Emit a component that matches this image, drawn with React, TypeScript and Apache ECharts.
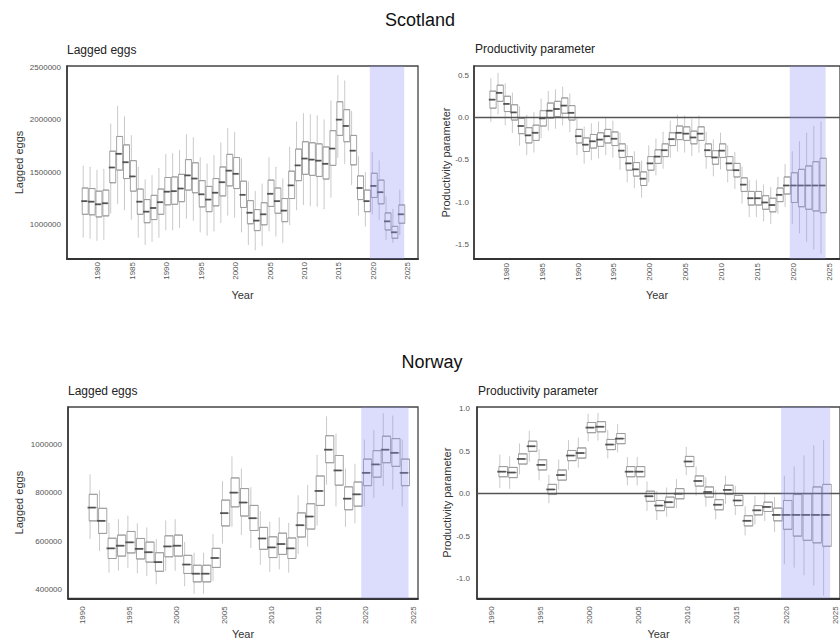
import React, { useEffect, useRef } from 'react';
import * as echarts from 'echarts';

const FONT = '"Liberation Sans", Arial, Helvetica, sans-serif';

const yearRange = (a: number, b: number): string[] => {
  const r: string[] = [];
  for (let y = a; y <= b; y++) r.push(String(y));
  return r;
};

// shaded projection period
const projectionStart = '2020';
const projectionEnd = '2024';

// ---------- Scotland (1978-2024) ----------
const scotlandYears = yearRange(1978, 2024);
// lagged eggs, thousands: [low whisker, Q1, median, Q3, high whisker]
const scotlandEggs = [
  [880, 1100, 1225, 1350, 1560],
  [870, 1095, 1220, 1345, 1550],
  [850, 1075, 1195, 1320, 1520],
  [860, 1085, 1205, 1330, 1530],
  [1110, 1400, 1545, 1700, 1960],
  [1200, 1520, 1675, 1840, 2130],
  [1140, 1440, 1595, 1760, 2030],
  [1050, 1320, 1460, 1610, 1850],
  [880, 1100, 1220, 1340, 1550],
  [810, 1020, 1125, 1240, 1430],
  [840, 1050, 1160, 1280, 1470],
  [880, 1100, 1215, 1340, 1540],
  [950, 1190, 1315, 1450, 1670],
  [950, 1195, 1320, 1455, 1680],
  [970, 1220, 1345, 1480, 1710],
  [1060, 1330, 1470, 1620, 1860],
  [1040, 1305, 1440, 1590, 1830],
  [930, 1170, 1290, 1420, 1640],
  [900, 1125, 1240, 1365, 1580],
  [940, 1180, 1305, 1440, 1660],
  [1020, 1275, 1405, 1550, 1780],
  [1090, 1370, 1515, 1670, 1920],
  [1070, 1345, 1485, 1640, 1880],
  [930, 1165, 1285, 1415, 1630],
  [810, 1010, 1115, 1230, 1410],
  [760, 945, 1040, 1145, 1320],
  [800, 1000, 1100, 1210, 1390],
  [940, 1175, 1295, 1425, 1640],
  [890, 1110, 1225, 1350, 1550],
  [830, 1030, 1135, 1250, 1440],
  [1000, 1250, 1375, 1510, 1740],
  [1140, 1420, 1565, 1720, 1980],
  [1190, 1480, 1630, 1790, 2060],
  [1180, 1470, 1620, 1780, 2050],
  [1175, 1460, 1610, 1770, 2040],
  [1150, 1435, 1580, 1740, 2000],
  [1260, 1565, 1725, 1895, 2180],
  [1640, 1850, 2000, 2170, 2420],
  [1580, 1790, 1940, 2095, 2370],
  [1380, 1570, 1705, 1850, 2080],
  [1090, 1240, 1350, 1465, 1650],
  [985, 1125, 1225, 1330, 1500],
  [1100, 1260, 1370, 1490, 1690],
  [1050, 1200, 1310, 1425, 1610],
  [856, 951, 1033, 1113, 1268],
  [830, 872, 929, 985, 1150],
  [904, 1015, 1100, 1189, 1332],
];
// productivity parameter: [low whisker, Q1, median, Q3, high whisker]
const scotlandProductivity = [
  [-0.05, 0.11, 0.21, 0.31, 0.46],
  [0.04, 0.19, 0.29, 0.38, 0.52],
  [-0.09, 0.07, 0.16, 0.25, 0.4],
  [-0.18, -0.03, 0.06, 0.15, 0.29],
  [-0.33, -0.19, -0.1, -0.01, 0.13],
  [-0.44, -0.3, -0.21, -0.12, 0.03],
  [-0.41, -0.27, -0.18, -0.09, 0.06],
  [-0.24, -0.1, -0.01, 0.08, 0.22],
  [-0.15, -0.01, 0.08, 0.17, 0.31],
  [-0.13, 0.01, 0.1, 0.19, 0.33],
  [-0.09, 0.05, 0.14, 0.23, 0.36],
  [-0.17, -0.03, 0.055, 0.14, 0.28],
  [-0.44, -0.3, -0.22, -0.14, -0.01],
  [-0.54, -0.4, -0.32, -0.24, -0.11],
  [-0.5, -0.36, -0.28, -0.2, -0.07],
  [-0.48, -0.34, -0.26, -0.18, -0.05],
  [-0.44, -0.3, -0.22, -0.14, -0.01],
  [-0.47, -0.33, -0.25, -0.17, -0.04],
  [-0.61, -0.47, -0.39, -0.31, -0.18],
  [-0.76, -0.62, -0.54, -0.46, -0.33],
  [-0.83, -0.69, -0.61, -0.53, -0.4],
  [-0.94, -0.8, -0.72, -0.64, -0.51],
  [-0.76, -0.62, -0.54, -0.46, -0.33],
  [-0.68, -0.54, -0.46, -0.38, -0.25],
  [-0.6, -0.46, -0.385, -0.31, -0.17],
  [-0.47, -0.33, -0.255, -0.18, -0.04],
  [-0.4, -0.26, -0.18, -0.1, 0.03],
  [-0.41, -0.27, -0.19, -0.11, 0.02],
  [-0.45, -0.31, -0.235, -0.16, -0.02],
  [-0.41, -0.27, -0.19, -0.11, 0.02],
  [-0.6, -0.46, -0.385, -0.31, -0.17],
  [-0.69, -0.55, -0.47, -0.39, -0.26],
  [-0.61, -0.47, -0.39, -0.31, -0.18],
  [-0.76, -0.62, -0.54, -0.46, -0.33],
  [-0.84, -0.7, -0.62, -0.54, -0.41],
  [-1.01, -0.87, -0.79, -0.71, -0.58],
  [-1.17, -1.03, -0.95, -0.87, -0.74],
  [-1.17, -1.03, -0.95, -0.87, -0.74],
  [-1.22, -1.08, -1.0, -0.92, -0.79],
  [-1.25, -1.11, -1.03, -0.95, -0.82],
  [-1.13, -0.99, -0.91, -0.83, -0.7],
  [-1.05, -0.9, -0.8, -0.7, -0.55],
  [-1.25, -1.0, -0.8, -0.65, -0.4],
  [-1.36, -1.05, -0.8, -0.61, -0.28],
  [-1.46, -1.08, -0.8, -0.57, -0.18],
  [-1.55, -1.1, -0.8, -0.52, -0.1],
  [-1.6, -1.12, -0.8, -0.48, -0.05],
];

// ---------- Norway (1991-2024) ----------
const norwayYears = yearRange(1991, 2024);
// lagged eggs, thousands
const norwayEggs = [
  [610, 684, 739, 794, 876],
  [560, 632, 684, 736, 810],
  [470, 528, 570, 612, 675],
  [478, 538, 581, 625, 690],
  [490, 551, 595, 640, 705],
  [467, 526, 568, 611, 673],
  [456, 513, 554, 596, 656],
  [422, 475, 513, 552, 608],
  [476, 535, 578, 622, 685],
  [478, 538, 581, 625, 690],
  [414, 466, 503, 541, 596],
  [383, 431, 465, 500, 551],
  [383, 431, 465, 500, 551],
  [436, 491, 530, 570, 628],
  [590, 663, 716, 770, 848],
  [660, 742, 801, 862, 950],
  [626, 704, 760, 818, 900],
  [572, 644, 695, 748, 823],
  [503, 566, 611, 657, 724],
  [473, 532, 574, 618, 680],
  [484, 545, 588, 633, 697],
  [470, 528, 570, 613, 675],
  [548, 617, 666, 717, 789],
  [578, 650, 702, 755, 832],
  [665, 748, 808, 870, 957],
  [835, 925, 979, 1037, 1117],
  [745, 832, 893, 955, 1045],
  [660, 730, 776, 825, 900],
  [675, 745, 794, 845, 920],
  [745, 830, 883, 940, 1020],
  [780, 865, 918, 975, 1060],
  [830, 925, 979, 1035, 1130],
  [815, 910, 966, 1025, 1120],
  [745, 830, 883, 940, 1020],
];
const norwayProductivity = [
  [0.07, 0.2, 0.26, 0.32, 0.46],
  [0.06, 0.19, 0.25, 0.31, 0.44],
  [0.23, 0.35, 0.41, 0.47, 0.59],
  [0.38, 0.5, 0.56, 0.62, 0.74],
  [0.16, 0.28, 0.34, 0.4, 0.52],
  [-0.11, -0.01, 0.05, 0.11, 0.22],
  [0.05, 0.16, 0.22, 0.28, 0.4],
  [0.28, 0.39, 0.45, 0.51, 0.63],
  [0.31, 0.42, 0.48, 0.54, 0.66],
  [0.62, 0.72, 0.78, 0.84, 0.94],
  [0.63, 0.73, 0.79, 0.85, 0.95],
  [0.42, 0.52, 0.58, 0.64, 0.75],
  [0.49, 0.59, 0.65, 0.71, 0.82],
  [0.1, 0.2, 0.26, 0.32, 0.43],
  [0.1, 0.2, 0.26, 0.32, 0.43],
  [-0.2, -0.09, -0.03, 0.03, 0.14],
  [-0.31, -0.2, -0.14, -0.08, 0.03],
  [-0.27, -0.16, -0.1, -0.04, 0.07],
  [-0.17, -0.06, 0.0, 0.06, 0.17],
  [0.22, 0.32, 0.38, 0.44, 0.55],
  [-0.02, 0.09, 0.15, 0.21, 0.32],
  [-0.15, -0.04, 0.02, 0.08, 0.19],
  [-0.3, -0.19, -0.13, -0.07, 0.04],
  [-0.12, -0.01, 0.045, 0.1, 0.21],
  [-0.25, -0.14, -0.08, -0.02, 0.09],
  [-0.49, -0.38, -0.32, -0.26, -0.15],
  [-0.36, -0.25, -0.196, -0.14, -0.03],
  [-0.32, -0.21, -0.156, -0.1, 0.01],
  [-0.45, -0.32, -0.25, -0.17, -0.04],
  [-0.83, -0.42, -0.25, -0.08, 0.21],
  [-0.87, -0.5, -0.25, -0.01, 0.32],
  [-0.96, -0.55, -0.25, 0.0, 0.45],
  [-1.08, -0.58, -0.25, 0.08, 0.57],
  [-1.2, -0.62, -0.25, 0.11, 0.63],
];

// tick labels
const eggTicksScotland = [1000000, 1500000, 2000000, 2500000];
const eggTicksNorway = [400000, 600000, 800000, 1000000];
const prodTicksScotland = [-1.5, -1.0, -0.5, 0.0, 0.5];
const prodTicksNorway = [-1.0, -0.5, 0.0, 0.5, 1.0];

type Panel = {
  grid: { left: number; top: number; width: number; height: number };
  axisYears: string[];
  years: string[];
  boxes: number[][];
  unit: number;
  yMin: number;
  yMax: number;
  yTicks: number[];
  decimals: number;
  yName: string;
  yNameGap: number;
  xNameGap: number;
  xLabelMargin: number;
  yLabelMargin: number;
  boxWidth: number;
  zeroLine: boolean;
  title: string;
  titleX: number;
  titleY: number;
};

const panels: Panel[] = [
  {
    grid: { left: 67, top: 66, width: 351, height: 193 },
    axisYears: yearRange(1976, 2026),
    years: scotlandYears, boxes: scotlandEggs, unit: 1000,
    yMin: 675000, yMax: 2510000, yTicks: eggTicksScotland, decimals: 0,
    yName: 'Lagged eggs', yNameGap: 43, xNameGap: 30, xLabelMargin: 3, yLabelMargin: 6,
    boxWidth: 6, zeroLine: false, title: 'Lagged eggs', titleX: 67, titleY: 50,
  },
  {
    grid: { left: 474, top: 66, width: 369, height: 193 },
    axisYears: yearRange(1976, 2026),
    years: scotlandYears, boxes: scotlandProductivity, unit: 1,
    yMin: -1.665, yMax: 0.606, yTicks: prodTicksScotland, decimals: 1,
    yName: 'Productivity parameter', yNameGap: 21, xNameGap: 30, xLabelMargin: 4, yLabelMargin: 5,
    boxWidth: 6.3, zeroLine: true, title: 'Productivity parameter', titleX: 475, titleY: 49,
  },
  {
    grid: { left: 68, top: 407, width: 350, height: 193 },
    axisYears: yearRange(1989, 2025),
    years: norwayYears, boxes: norwayEggs, unit: 1000,
    yMin: 363000, yMax: 1156000, yTicks: eggTicksNorway, decimals: 0,
    yName: 'Lagged eggs', yNameGap: 44, xNameGap: 28, xLabelMargin: 8, yLabelMargin: 6,
    boxWidth: 8.2, zeroLine: false, title: 'Lagged eggs', titleX: 68, titleY: 391,
  },
  {
    grid: { left: 477, top: 407, width: 366, height: 193 },
    axisYears: yearRange(1989, 2025),
    years: norwayYears, boxes: norwayProductivity, unit: 1,
    yMin: -1.234, yMax: 1.023, yTicks: prodTicksNorway, decimals: 1,
    yName: 'Productivity parameter', yNameGap: 24, xNameGap: 28, xLabelMargin: 8, yLabelMargin: 7,
    boxWidth: 8.6, zeroLine: true, title: 'Productivity parameter', titleX: 478, titleY: 391,
  },
];

function buildOption() {
  const grid: any[] = [];
  const xAxis: any[] = [];
  const yAxis: any[] = [];
  const series: any[] = [];
  const graphic: any[] = [
    { type: 'text', x: 420, y: 20, style: { text: 'Scotland', fontSize: 18, fontFamily: FONT, fill: '#111', align: 'center', verticalAlign: 'middle' } },
    { type: 'text', x: 432, y: 362, style: { text: 'Norway', fontSize: 18, fontFamily: FONT, fill: '#111', align: 'center', verticalAlign: 'middle' } },
  ];

  panels.forEach((p, i) => {
    grid.push({ ...p.grid, show: true, borderColor: '#444', borderWidth: 1.3, backgroundColor: '#fff' });
    xAxis.push({
      type: 'category', gridIndex: i, data: p.axisYears, boundaryGap: true,
      name: 'Year', nameLocation: 'middle', nameGap: p.xNameGap,
      nameTextStyle: { fontFamily: FONT, fontSize: 11, color: '#333' },
      axisLine: { onZero: false, lineStyle: { color: '#333', width: 1.8 } },
      axisTick: { show: false },
      axisLabel: {
        interval: (_idx: number, val: string) => Number(val) % 5 === 0,
        rotate: 90, fontSize: 8, color: '#555', fontFamily: FONT, margin: p.xLabelMargin,
      },
      splitLine: { show: false },
    });
    yAxis.push({
      type: 'value', gridIndex: i, min: p.yMin, max: p.yMax,
      name: p.yName, nameLocation: 'middle', nameGap: p.yNameGap,
      nameTextStyle: { fontFamily: FONT, fontSize: 11, color: '#333' },
      axisLine: { show: true, onZero: false, lineStyle: { color: '#333', width: 1.5 } },
      axisTick: { show: false },
      axisLabel: {
        customValues: p.yTicks,
        formatter: (v: number) => (p.decimals ? v.toFixed(p.decimals) : String(Math.round(v))),
        fontSize: 8, color: '#555', fontFamily: FONT, margin: p.yLabelMargin,
      },
      splitLine: { show: false },
    });

    const rows = p.years.map((y, k) => [y, ...p.boxes[k].map((v) => v * p.unit)]);

    // whiskers (light, no end caps)
    series.push({
      type: 'boxplot', xAxisIndex: i, yAxisIndex: i, silent: true, z: 2,
      data: rows, encode: { x: 0, y: [1, 2, 3, 4, 5] },
      boxWidth: [0.3, 0.3],
      itemStyle: { color: 'rgba(255,255,255,0)', borderColor: '#c4c4c4', borderWidth: 0.9 },
    });
    // boxes (inter-quartile range)
    series.push({
      type: 'boxplot', xAxisIndex: i, yAxisIndex: i, silent: true, z: 3,
      data: rows.map((r) => [r[0], r[2], r[2], r[3], r[4], r[4]]),
      encode: { x: 0, y: [1, 2, 3, 4, 5] },
      boxWidth: [p.boxWidth, p.boxWidth],
      itemStyle: { color: '#ffffff', borderColor: '#9c9c9c', borderWidth: 0.9 },
      markLine: p.zeroLine
        ? {
            silent: true, symbol: 'none', label: { show: false },
            lineStyle: { color: '#555', width: 1.3, type: 'solid' },
            data: [{ yAxis: 0 }],
          }
        : undefined,
    });
    // medians
    series.push({
      type: 'scatter', xAxisIndex: i, yAxisIndex: i, silent: true, z: 4,
      data: rows.map((r) => [r[0], r[3]]),
      symbol: 'rect', symbolSize: [p.boxWidth, 1.8],
      itemStyle: { color: '#3a3a3a' },
    });
    // projection shading
    series.push({
      type: 'custom', xAxisIndex: i, yAxisIndex: i, silent: true, z: 5,
      data: [[p.axisYears.indexOf(projectionStart), p.axisYears.indexOf(projectionEnd)]],
      renderItem: (params: any, api: any) => {
        const a = api.coord([api.value(0), 0]);
        const b = api.coord([api.value(1), 0]);
        const bw = api.size([1, 0])[0];
        const cs = params.coordSys;
        return {
          type: 'rect',
          shape: { x: a[0] - bw / 2, y: cs.y, width: b[0] - a[0] + bw, height: cs.height },
          style: { fill: 'rgba(140,140,245,0.3)' },
        };
      },
    });

    graphic.push({
      type: 'text', x: p.titleX, y: p.titleY,
      style: { text: p.title, fontSize: 12, fontFamily: FONT, fill: '#222', align: 'left', verticalAlign: 'middle' },
    });
  });

  return { animation: false, backgroundColor: '#fff', grid, xAxis, yAxis, series, graphic };
}

export default function App() {
  const ref = useRef<HTMLDivElement>(null);
  useEffect(() => {
    const chart = echarts.init(ref.current as HTMLDivElement, null, { renderer: 'svg' });
    chart.setOption(buildOption() as any);
    return () => chart.dispose();
  }, []);
  return (
    <div
      ref={ref}
      style={{ position: 'absolute', left: 0, top: 0, width: 840, height: 640, background: '#fff' }}
    />
  );
}
